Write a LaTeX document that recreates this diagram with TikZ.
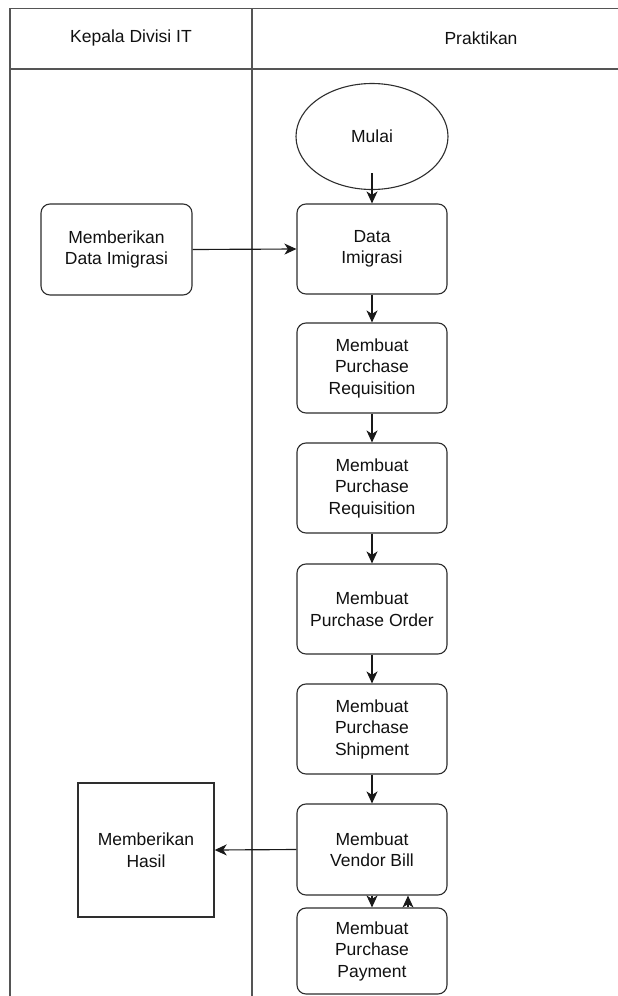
\documentclass[tikz,border=0pt]{standalone}
\usepackage{fontspec}
\setmainfont{Liberation Sans}
\usetikzlibrary{shapes.geometric,arrows.meta}
\definecolor{lanecol}{HTML}{555555}
\definecolor{boxcol}{HTML}{2E2E2E}
\definecolor{txtcol}{HTML}{111111}
\tikzset{
  lbl/.style={font=\fontsize{17.5}{21.5}\selectfont, text=txtcol, align=center, inner sep=0pt},
  proc/.style={lbl, draw=boxcol, line width=1.15pt, rounded corners=9pt, minimum width=150pt, minimum height=90pt},
  sq/.style={lbl, draw=boxcol, line width=1.4pt, minimum width=136pt, minimum height=134pt},
  startnode/.style={lbl, ellipse, draw=boxcol, line width=1.1pt, minimum width=152pt, minimum height=106pt},
  lane/.style={draw=lanecol, line width=1.4pt},
  arr/.style={draw=black!90, line width=1.15pt, -{Stealth[length=12pt,width=11pt,inset=3.5pt]}},
}
\begin{document}
\begin{tikzpicture}[x=1pt,y=1pt]
\useasboundingbox[fill=white] (0,0) rectangle (618,-996);
% swimlanes
\draw[lane] (618,-8.5) -- (10,-8.5) -- (10,-996);
\draw[lane] (10,-69) -- (618,-69);
\draw[lane] (252,-8.5) -- (252,-996);
\node[lbl] (h1) at (131,-38) {Kepala Divisi IT};
\node[lbl] (h2) at (481,-38) {Praktikan};
% nodes
\node[startnode] (mulai) at (372,-136.5) {Mulai};
\node[proc] (data) at (372,-249) {Data\\Imigrasi};
\node[proc, minimum width=151pt, minimum height=91pt] (beri) at (116.5,-249.5) {Memberikan\\Data Imigrasi};
\node[proc] (req1) at (372,-368) {Membuat\\Purchase\\Requisition};
\node[proc] (req2) at (372,-488) {Membuat\\Purchase\\Requisition};
\node[proc] (order) at (372,-609) {Membuat\\Purchase Order};
\node[proc] (ship) at (372,-729) {Membuat\\Purchase\\Shipment};
\node[proc, minimum height=91pt] (bill) at (372,-849.5) {Membuat\\Vendor Bill};
\node[proc, minimum height=86pt] (pay) at (372,-951) {Membuat\\Purchase\\Payment};
\node[sq] (hasil) at (146,-850) {Memberikan\\Hasil};
% connectors
\coordinate (mstart) at (372,-173);
\draw[arr] (mstart) -- (data.north);
\draw[arr] (beri.east) -- (data.west);
\draw[arr] (data.south) -- (req1.north);
\draw[arr] (req1.south) -- (req2.north);
\draw[arr] (req2.south) -- (order.north);
\draw[arr] (order.south) -- (ship.north);
\draw[arr] (ship.south) -- (bill.north);
\draw[arr] (bill.west) -- (hasil.east);
\draw[arr] (bill.south) -- (pay.north);
\draw[arr] ([xshift=36pt]pay.north) -- ([xshift=36pt]bill.south);
\end{tikzpicture}
\end{document}
